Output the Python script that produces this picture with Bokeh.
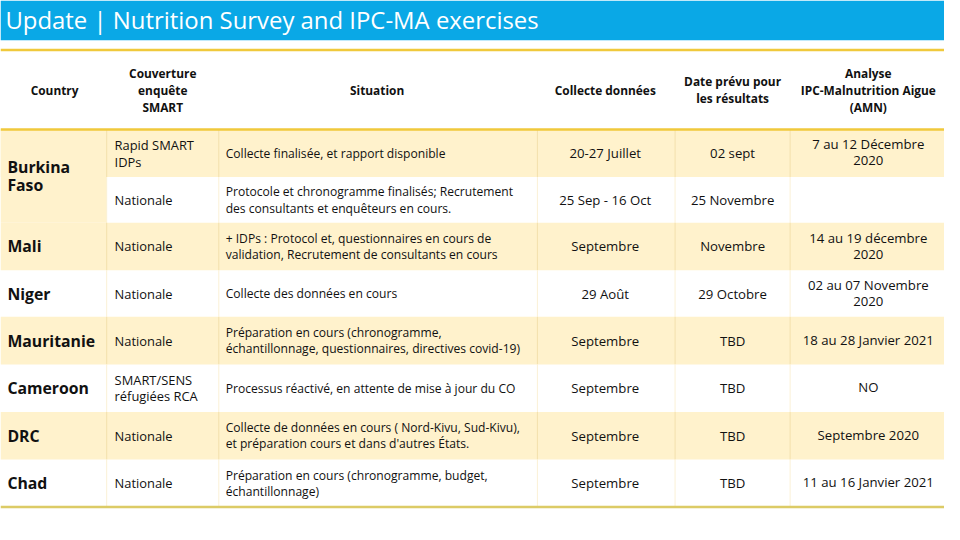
from bokeh.plotting import figure
from bokeh.models import ColumnDataSource, Range1d
from bokeh.core.properties import value
from bokeh.embed import file_html
from bokeh.resources import INLINE

# ---------------- data ----------------
title = "Update | Nutrition Survey and IPC-MA exercises"
headers = ["Country", "Couverture\nenquête\nSMART", "Situation", "Collecte données",
           "Date prévu pour\nles résultats", "Analyse\nIPC-Malnutrition Aigue\n(AMN)"]
row_country = ["Burkina\nFaso", "Burkina\nFaso", "Mali", "Niger", "Mauritanie",
               "Cameroon", "DRC", "Chad"]
coverage = ["Rapid SMART\nIDPs", "Nationale", "Nationale", "Nationale", "Nationale",
            "SMART/SENS\nréfugiées RCA", "Nationale", "Nationale"]
situation = [
    "Collecte finalisée, et rapport disponible",
    "Protocole et chronogramme finalisés; Recrutement\ndes consultants et enquêteurs en cours.",
    "+ IDPs : Protocol et, questionnaires en cours de\nvalidation, Recrutement de consultants en cours",
    "Collecte des données en cours",
    "Préparation en cours (chronogramme,\néchantillonnage, questionnaires, directives covid-19)",
    "Processus réactivé, en attente de mise à jour du CO",
    "Collecte de données en cours ( Nord-Kivu, Sud-Kivu),\net préparation cours et dans d'autres États.",
    "Préparation en cours (chronogramme, budget,\néchantillonnage)",
]
collecte = ["20-27 Juillet", "25 Sep - 16 Oct", "Septembre", "29 Août", "Septembre",
            "Septembre", "Septembre", "Septembre"]
date_resultats = ["02 sept", "25 Novembre", "Novembre", "29 Octobre", "TBD", "TBD", "TBD", "TBD"]
analyse = ["7 au 12 Décembre\n2020", "", "14 au 19 décembre\n2020", "02 au 07 Novembre\n2020",
           "18 au 28 Janvier 2021", "NO", "Septembre 2020", "11 au 16 Janvier 2021"]

# ---------------- layout ----------------
W, H = 960, 540
col_edges = [0, 108, 222, 546, 686, 803, 960]
row_edges = [133, 182, 229, 278, 326, 375, 424, 473, 522]
header_bot = 133

BLUE = "#0aa8e6"
SHADE = "#fff2cc"
GOLD = "#f0c93c"
VLINE = "#f3e0ac"
FONT = value("Open Sans")
S = 0.975

p = figure(width=944, height=524, output_backend="svg", toolbar_location=None,
           x_range=Range1d(0, W), y_range=Range1d(H, 0), min_border=0,
           background_fill_color="white", border_fill_color="white", outline_line_color=None)
p.axis.visible = False
p.grid.visible = False

# title bar
p.quad(left=[0], right=[W], top=[0], bottom=[41], fill_color=BLUE, line_color=None)
p.text(x=[5], y=[20], text=[title], text_color="white", text_font=FONT,
       text_font_size=f"{24.5*S:.1f}px", text_baseline="middle", text_align="left")

# banded rows
n = len(row_country)
shade_rows = [i for i in range(n) if i % 2 == 0]
p.quad(left=[0]*len(shade_rows), right=[W]*len(shade_rows),
       top=[row_edges[i] for i in shade_rows], bottom=[row_edges[i+1] for i in shade_rows],
       fill_color=SHADE, line_color=None)

# merged country cells: group consecutive rows
groups = []
for i, c in enumerate(row_country):
    if groups and groups[-1][0] == c:
        groups[-1][2] = i
    else:
        groups.append([c, i, i])
for c, a, b in groups:
    if a % 2 == 0 and b > a:
        p.quad(left=[col_edges[0]], right=[col_edges[1]], top=[row_edges[a]],
               bottom=[row_edges[b+1]], fill_color=SHADE, line_color=None)

# vertical separators
xs0, ys0, xs1, ys1, cols = [], [], [], [], []
for x in col_edges[1:-1]:
    for i in range(n):
        xs0.append(x); xs1.append(x)
        ys0.append(row_edges[i]); ys1.append(row_edges[i+1])
        cols.append(VLINE if i % 2 == 0 else "#fbf1d6")
p.segment(x0=xs0, y0=ys0, x1=xs1, y1=ys1, line_color=cols, line_width=1)

# gold horizontal rules
p.segment(x0=[0, 0], y0=[51, header_bot], x1=[W, W], y1=[51, header_bot],
          line_color=GOLD, line_width=2.5)
p.segment(x0=[0], y0=[row_edges[-1]], x1=[W], y1=[row_edges[-1]],
          line_color="#dccb66", line_width=2.5)

# headers
hx = [(col_edges[0] + col_edges[1]) / 2 + 1, (col_edges[1] + col_edges[2]) / 2,
      (col_edges[2] + col_edges[3]) / 2 - 1, (col_edges[3] + col_edges[4]) / 2 - 1,
      (col_edges[4] + col_edges[5]) / 2, (col_edges[5] + col_edges[6]) / 2 + 1]
hsrc = ColumnDataSource(dict(x=hx, y=[92]*6, t=headers))
p.text(x="x", y="y", text="t", source=hsrc, text_font=FONT, text_font_style="bold",
       text_font_size=f"{12.2*S:.1f}px", text_align="center", text_baseline="middle",
       text_color="#111111", text_line_height=1.05)

# row centres
rc = [(row_edges[i] + row_edges[i+1]) / 2 for i in range(n)]

# country column
cx, cy, ct = [], [], []
for c, a, b in groups:
    cx.append(7); cy.append((row_edges[a] + row_edges[b+1]) / 2); ct.append(c)
p.text(x=cx, y=cy, text=ct, text_font=FONT, text_font_style="bold",
       text_font_size=f"{16.2*S:.1f}px", text_align="left", text_baseline="middle",
       text_color="#111111", text_line_height=0.8)

# coverage
p.text(x=[116]*n, y=rc, text=coverage, text_font=FONT, text_font_size=f"{13.2*S:.1f}px",
       text_align="left", text_baseline="middle", text_color="#111111", text_line_height=0.91)
# situation
p.text(x=[229]*n, y=rc, text=situation, text_font=FONT, text_font_size=f"{12.4*S:.1f}px",
       text_align="left", text_baseline="middle", text_color="#111111", text_line_height=0.96)
# collecte
p.text(x=[hx[3]]*n, y=rc, text=collecte, text_font=FONT, text_font_size=f"{13.5*S:.1f}px",
       text_align="center", text_baseline="middle", text_color="#111111")
# date
p.text(x=[hx[4]]*n, y=rc, text=date_resultats, text_font=FONT, text_font_size=f"{13.5*S:.1f}px",
       text_align="center", text_baseline="middle", text_color="#111111")
# analyse
p.text(x=[hx[5]]*n, y=[y - 1 for y in rc], text=analyse, text_font=FONT,
       text_font_size=f"{13.5*S:.1f}px", text_align="center", text_baseline="middle",
       text_color="#111111", text_line_height=0.89)

open("out.html", "w").write(file_html(p, INLINE))
